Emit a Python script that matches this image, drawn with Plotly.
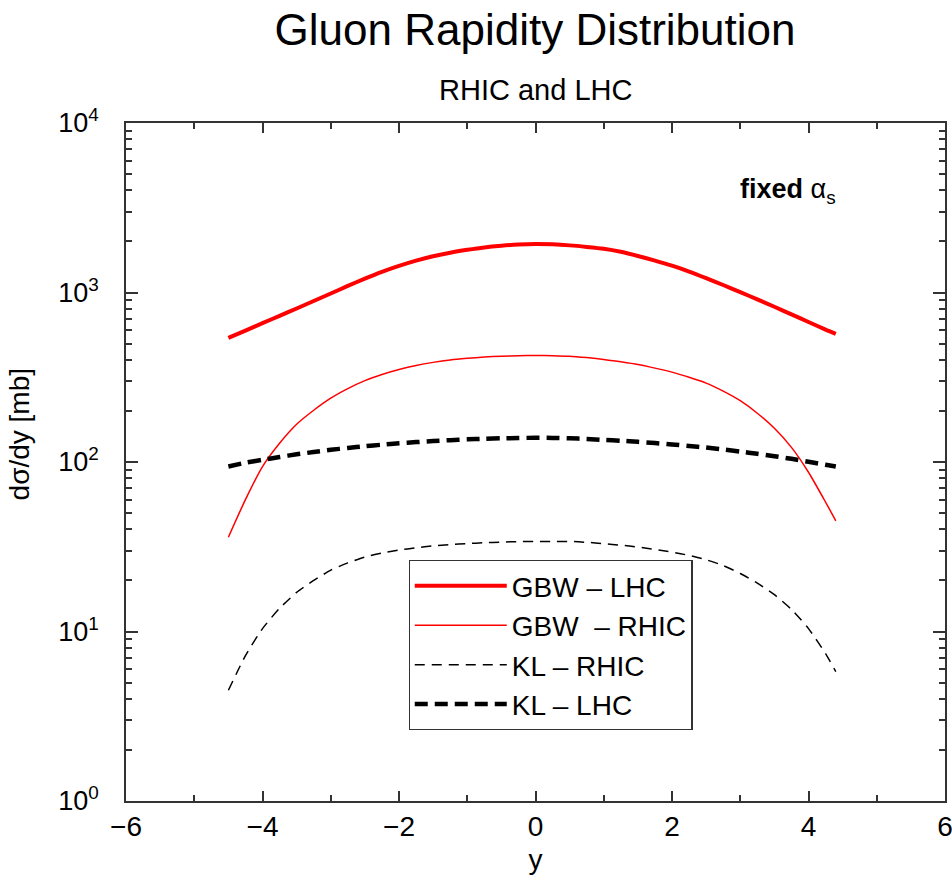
import plotly.graph_objects as go

y_rap = [-4.5, -4.25, -4.0, -3.75, -3.5, -3.25, -3.0, -2.75, -2.5, -2.25, -2.0, -1.75,
         -1.5, -1.25, -1.0, -0.75, -0.5, -0.25, 0.0, 0.25, 0.5, 0.75, 1.0, 1.25,
         1.5, 1.75, 2.0, 2.25, 2.5, 2.75, 3.0, 3.25, 3.5, 3.75, 4.0, 4.25, 4.4]

gbw_lhc = [540, 596, 659, 728, 805, 891, 986, 1094, 1208, 1324, 1435, 1542,
           1637, 1718, 1786, 1845, 1888, 1919, 1932, 1923, 1897, 1858, 1811, 1738,
           1641, 1542, 1439, 1330, 1216, 1107, 1005, 910, 824, 743, 670, 604, 570]
gbw_rhic = [36, 60, 94, 129, 167, 202, 238, 271, 302, 328, 351, 371,
            387, 400, 409, 416, 421, 424, 425, 424, 421, 413, 403, 390,
            376, 358, 339, 316, 292, 262, 230, 194, 158, 122, 87, 58, 45]
kl_rhic = [4.5, 7.2, 10.4, 13.7, 17.0, 20.0, 23.0, 25.4, 27.5, 29.0, 30.2, 31.2,
           32.0, 32.6, 33.0, 33.4, 33.7, 33.9, 34.0, 34.0, 34.0, 33.6, 33.0, 32.3,
           31.5, 30.5, 29.4, 28.1, 26.5, 24.5, 22.0, 19.3, 16.5, 13.5, 10.4, 7.4, 5.8]
kl_lhc = [94, 99, 103, 107, 111, 114.5, 118, 121, 124, 126.5, 129, 131,
          133, 134.5, 136, 137, 138, 138.5, 139, 138.7, 138, 136.7, 135, 133.5,
          131.5, 129.3, 127, 124.4, 121.6, 118.5, 115.2, 111.8, 108.2, 104.4, 100.4, 96.3, 94]

series_names = ["GBW \u2013 LHC", "GBW  \u2013 RHIC", "KL \u2013 RHIC", "KL \u2013 LHC"]
x_ticks = [-6, -4, -2, 0, 2, 4, 6]
y_ticks = [1, 10, 100, 1000, 10000]
y_tick_text = ["10<sup>0</sup>", "10<sup>1</sup>", "10<sup>2</sup>", "10<sup>3</sup>", "10<sup>4</sup>"]

FONT = "Liberation Sans, Arial, Helvetica, sans-serif"

fig = go.Figure()
styles = [
    dict(color="#ff0000", width=4, dash="solid"),
    dict(color="#ff0000", width=1.5, dash="solid"),
    dict(color="#000000", width=1.5, dash="10px,7px"),
    dict(color="#000000", width=4.5, dash="13px,7px"),
]
for i, (name, vals) in enumerate(zip(series_names, [gbw_lhc, gbw_rhic, kl_rhic, kl_lhc])):
    fig.add_trace(go.Scatter(
        x=y_rap, y=vals, mode="lines", name=name,
        line=dict(shape="spline", smoothing=0.6, **styles[i]),
    ))

axis_common = dict(
    showline=True, linecolor="#333333", linewidth=1.5, mirror="ticks",
    ticks="inside", tickcolor="#333333", tickwidth=1.5,
    showgrid=False, zeroline=False, automargin=False,
)

fig.update_xaxes(
    range=[-6, 6], tickvals=x_ticks, ticklen=10,
    tickfont=dict(family=FONT, size=28, color="black"),
    ticklabelstandoff=0, ticklabeloverflow="allow",
    minor=dict(ticks="inside", dtick=1, ticklen=6, tickcolor="#333333", showgrid=False),
    title=dict(text="y", font=dict(family=FONT, size=28, color="black"), standoff=8),
    **axis_common,
)
fig.update_yaxes(
    type="log", range=[0, 4], tickvals=y_ticks, ticktext=y_tick_text, ticklen=12,
    tickfont=dict(family=FONT, size=27, color="black"),
    ticklabelstandoff=20,
    minor=dict(ticks="inside", dtick="D1", ticklen=6, tickcolor="#333333", showgrid=False),
    **axis_common,
)

fig.add_annotation(
    text="d\u03c3/dy [mb]", x=-0.130, y=0.54, xref="paper", yref="paper",
    textangle=-90, showarrow=False, xanchor="center", yanchor="middle", borderpad=0,
    font=dict(family=FONT, size=28, color="black"),
)
fig.add_annotation(
    text="<b>fixed</b> \u03b1<sub>s</sub>", x=0.808, y=0.90, xref="paper", yref="paper",
    showarrow=False, font=dict(family=FONT, size=27, color="black"),
    xanchor="center", yanchor="middle",
)
fig.add_annotation(
    text="RHIC and LHC", x=0.5, y=1.0487, yref="paper", xref="paper", yanchor="middle",
    showarrow=False, font=dict(family=FONT, size=29, color="black"),
)

fig.update_layout(
    width=952, height=882,
    margin=dict(l=125.5, r=7, t=123, b=81),
    paper_bgcolor="white", plot_bgcolor="white",
    title=dict(text="Gluon Rapidity Distribution", x=0.562, xanchor="center",
               y=0.967, yanchor="middle", automargin=False,
               font=dict(family=FONT, size=44, color="black")),
    font=dict(family=FONT, color="black"),
    legend=dict(
        x=0.345, y=0.3555, xanchor="left", yanchor="top",
        bordercolor="#333333", borderwidth=1.2, bgcolor="white",
        font=dict(family=FONT, size=28, color="black"),
        tracegroupgap=0, itemwidth=92,
    ),
    showlegend=True,
)

fig.write_html(
    "out.html",
    config={"displayModeBar": False},
    post_script="document.body.style.margin='0px';document.body.style.overflow='hidden';",
)
